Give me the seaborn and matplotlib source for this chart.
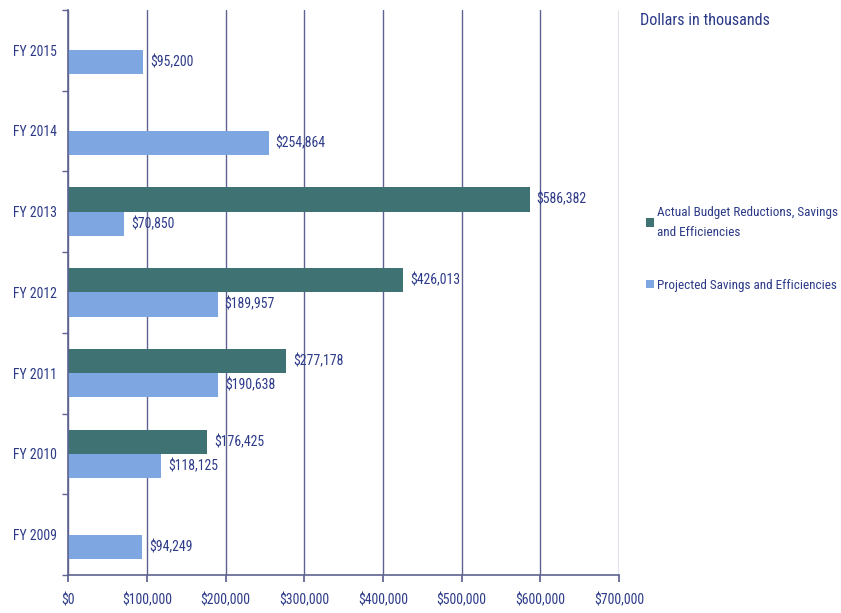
import numpy as np
import pandas as pd
import seaborn as sns
import matplotlib.pyplot as plt
from matplotlib.ticker import FuncFormatter, MultipleLocator
from matplotlib import font_manager

# Fiscal years, top to bottom
years = ["FY 2015", "FY 2014", "FY 2013", "FY 2012", "FY 2011", "FY 2010", "FY 2009"]
# Dollars in thousands
actual = [np.nan, np.nan, 586382, 426013, 277178, 176425, np.nan]
projected = [95200, 254864, 70850, 189957, 190638, 118125, 94249]
series_names = ["Actual Budget Reductions, Savings\nand Efficiencies",
                "Projected Savings and Efficiencies"]

df = pd.DataFrame({
    "year": years * 2,
    "value": actual + projected,
    "series": [series_names[0]] * len(years) + [series_names[1]] * len(years),
})

sns.set_theme(style="white")

# Prefer a narrow sans face when one is installed
entries = font_manager.fontManager.ttflist
face = "Liberation Sans"
for wanted in ["Liberation Sans Narrow", "Roboto Condensed", "Open Sans Condensed"]:
    if any(f.name == wanted for f in entries):
        face = wanted
        break
plt.rcParams["font.family"] = [face, "DejaVu Sans"]

navy = "#2c3a88"
grid_col = "#5d6290"
palette = {series_names[0]: "#3f7373", series_names[1]: "#7ea6e0"}

fig = plt.figure(figsize=(8.41, 6.13), dpi=100)

# size the text so a value label spans about 50 px
renderer = fig.canvas.get_renderer()
probe = fig.text(0, 0, "$586,382", fontsize=10)
w = probe.get_window_extent(renderer).width
probe.remove()
fs = min(12.0, 10 * 50.0 / w)

ax = fig.add_axes([0.081, 0.062, 0.655, 0.922])

sns.barplot(data=df, x="value", y="year", hue="series", order=years,
            hue_order=series_names, palette=palette, orient="h",
            width=0.6, dodge=True, saturation=1, errorbar=None, ax=ax,
            edgecolor="none", linewidth=0)

for cont in ax.containers:
    ax.bar_label(cont, fmt=lambda v: f"${v:,.0f}", padding=5,
                 color=navy, fontsize=fs)

ax.set_xlim(0, 700000)
ax.set_ylim(len(years) - 0.5, -0.5)
ax.xaxis.set_major_locator(MultipleLocator(100000))
ax.xaxis.set_major_formatter(FuncFormatter(lambda v, p: f"${v:,.0f}"))
ax.set_xlabel("")
ax.set_ylabel("")

ax.grid(axis="x", color=grid_col, linewidth=1)
ax.set_axisbelow(True)
for side in ["top", "right"]:
    ax.spines[side].set_visible(False)
for side in ["left", "bottom"]:
    ax.spines[side].set_color(grid_col)
    ax.spines[side].set_linewidth(1.2)

ax.tick_params(axis="x", which="major", bottom=True, length=5, color=grid_col,
               labelsize=fs, labelcolor=navy, pad=8)
ax.tick_params(axis="y", which="major", left=False, length=0, labelsize=fs,
               labelcolor=navy, pad=8)
ax.set_yticks(np.arange(len(years) + 1) - 0.5, minor=True)
ax.tick_params(axis="y", which="minor", left=True, length=4, color=grid_col)

leg = ax.legend(loc="upper left", bbox_to_anchor=(1.04, 0.663), frameon=False,
                fontsize=fs * 0.96, handlelength=0.6, handleheight=0.6,
                handletextpad=0.2, labelspacing=3.0, borderaxespad=0,
                alignment="left")
for t in leg.get_texts():
    t.set_color(navy)
    t.set_linespacing(1.75)

fig.text(0.761, 0.967, "Dollars in thousands", color=navy, fontsize=fs * 1.17,
         ha="left", va="center")

fig.savefig("out.png", dpi=100, facecolor="white")
